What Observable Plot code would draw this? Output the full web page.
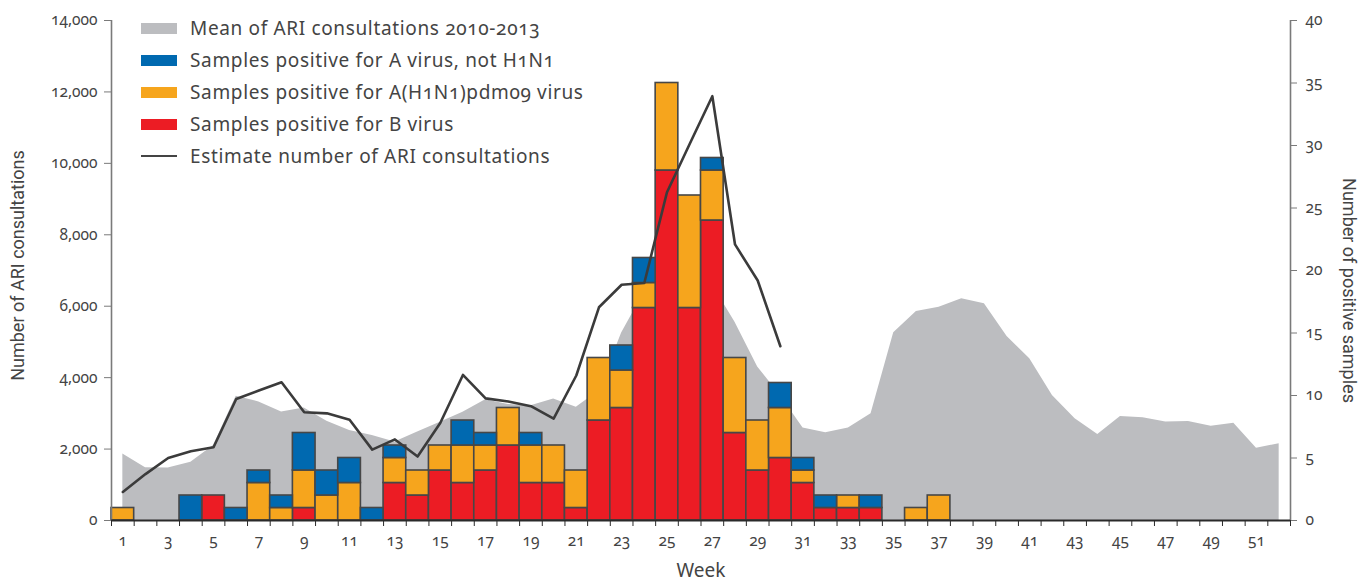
<!DOCTYPE html>
<html><head><meta charset="utf-8">
<script src="https://cdn.jsdelivr.net/npm/d3@7"></script>
<script src="https://cdn.jsdelivr.net/npm/@observablehq/plot@0.6"></script>
<style>
body{margin:0;background:#fff;}
#wrap{position:relative;width:1363px;height:585px;}
.legend{position:absolute;left:141px;top:12px;font-family:"Noto Sans";font-size:19px;letter-spacing:0.65px;color:#444;font-variant-numeric:oldstyle-nums;}
.row{display:flex;align-items:center;height:32px;}
.sw{width:36px;height:11px;margin-right:13px;}
.ln{width:36px;height:2.5px;background:#444;margin-right:13px;}
svg text{font-variant-numeric:oldstyle-nums;}
</style></head>
<body><div id="wrap"></div>
<script>
const weeks = d3.range(1, 53);
const meanARI = [1860,1475,1470,1630,2100,3480,3320,3040,3150,2780,2520,2380,2200,2480,2750,3030,3380,3250,3210,3400,3170,3630,5250,6400,6600,6600,6600,5550,4300,3500,2590,2455,2590,2990,5255,5850,5970,6210,6070,5150,4530,3500,2850,2410,2910,2875,2755,2770,2640,2725,2025,2150];
const estWeeks = d3.range(1, 31);
const estARI = [800,1300,1750,1940,2050,3400,3640,3870,3030,3000,2820,1985,2270,1790,2730,4075,3420,3330,3200,2850,4060,5970,6600,6650,9190,10540,11880,7730,6720,4880];
const posB =    [0,0,0,0,2,0,0,0,1,0,0,0,3,2,4,3,4,6,3,3,1,8,9,17,28,17,24,7,4,5,3,1,1,1,0,0,0,0,0,0,0,0,0,0,0,0,0,0,0,0,0,0];
const posH1N1 = [1,0,0,0,0,0,3,1,3,2,3,0,2,2,2,3,2,3,3,3,3,5,3,2,7,9,4,6,4,4,1,0,1,0,0,1,2,0,0,0,0,0,0,0,0,0,0,0,0,0,0,0];
const posA =    [0,0,0,2,0,1,1,1,3,2,2,1,1,0,0,2,1,0,1,0,0,0,2,2,0,0,1,0,0,2,1,1,0,1,0,0,0,0,0,0,0,0,0,0,0,0,0,0,0,0,0,0];
const seriesNames = ["Samples positive for B virus","Samples positive for A(H1N1)pdm09 virus","Samples positive for A virus, not H1N1"];
const seriesColors = ["#ec1c24","#f6a51d","#0069b0"];
const leftTicks = d3.range(0, 14001, 2000);
const rightTicks = d3.range(0, 41, 5);
const oddWeeks = weeks.filter(w => w % 2 === 1);

const S = 14000 / 40;
const series = [posB, posH1N1, posA];
const long = [];
series.forEach((arr, k) => arr.forEach((n, i) => { if (n > 0) long.push({week: weeks[i], n, type: seriesNames[k]}); }));
const area = weeks.map((w, i) => ({week: w, v: meanARI[i]}));
const est = estWeeks.map((w, i) => ({week: w, v: estARI[i]}));
const bounds = [weeks[0] - 0.5, ...weeks.map(w => w + 0.5)];

const chart = Plot.plot({
  width: 1363, height: 585,
  marginTop: 20, marginBottom: 65, marginLeft: 111, marginRight: 73,
  x: {domain: [0.5, 52.5]},
  y: {domain: [0, 14000]},
  color: {domain: seriesNames, range: seriesColors},
  style: {fontFamily: "Noto Sans", fontSize: "15.5px", color: "#444", background: "#fff"},
  marks: [
    Plot.areaY(area, {x: "week", y: "v", fill: "#bcbdc0"}),
    Plot.rect(long, Plot.stackY({x1: d => d.week - 0.5, x2: d => d.week + 0.5, y: d => d.n * S, fill: "type", order: seriesNames, stroke: "#474747", strokeWidth: 1.6})),
    Plot.line(est, {x: "week", y: "v", stroke: "#3b3b3b", strokeWidth: 2.6}),
    Plot.ruleX([bounds[0]], {stroke: "#7a7a7a", strokeWidth: 1.6}),
    Plot.ruleX([bounds[bounds.length - 1]], {stroke: "#7a7a7a", strokeWidth: 1.6}),
    Plot.ruleY([0], {stroke: "#2a2a2a", strokeWidth: 2}),
    Plot.axisY({anchor: "left", ticks: leftTicks, tickFormat: d3.format(","), tickSize: 7, tickPadding: 7, stroke: "#7a7a7a", fill: "#444", label: null, fontVariant: "oldstyle-nums"}),
    Plot.axisY({anchor: "right", ticks: rightTicks.map(v => v * S), tickFormat: d => String(Math.round(d / S)), tickSize: 6, tickPadding: 9, stroke: "#7a7a7a", fill: "#444", label: null, fontVariant: "oldstyle-nums"}),
    Plot.axisX({ticks: bounds, tickFormat: () => "", tickSize: 6, stroke: "#2a2a2a", label: null}),
    Plot.axisX({ticks: oddWeeks, tickFormat: d => String(d), tickSize: 0, tickPadding: 14, fill: "#444", label: null, fontVariant: "oldstyle-nums"}),
    Plot.text(["Number of ARI consultations"], {frameAnchor: "left", textAnchor: "middle", rotate: -90, dx: -93, dy: -5, fontSize: 18, fill: "#444", fontFamily: "Roboto"}),
    Plot.text(["Number of positive samples"], {frameAnchor: "right", textAnchor: "middle", rotate: 90, dx: 58, dy: 20, fontSize: 18, fill: "#444", fontFamily: "Roboto"}),
    Plot.text(["Week"], {frameAnchor: "bottom", dy: 56, fontSize: 19, fill: "#444", fontFamily: "Noto Sans"})
  ]
});
const wrap = document.getElementById("wrap");
wrap.appendChild(chart);

const legendItems = [
  {label: "Mean of ARI consultations 2010-2013", color: "#bcbdc0", kind: "sw"},
  {label: seriesNames[2], color: seriesColors[2], kind: "sw"},
  {label: seriesNames[1], color: seriesColors[1], kind: "sw"},
  {label: seriesNames[0], color: seriesColors[0], kind: "sw"},
  {label: "Estimate number of ARI consultations", color: "#444", kind: "ln"}
];
const lg = document.createElement("div");
lg.className = "legend";
legendItems.forEach(it => {
  const r = document.createElement("div"); r.className = "row";
  const s = document.createElement("span"); s.className = it.kind; s.style.background = it.color;
  const t = document.createElement("span"); t.textContent = it.label;
  r.appendChild(s); r.appendChild(t); lg.appendChild(r);
});
wrap.appendChild(lg);
</script>
</body></html>
